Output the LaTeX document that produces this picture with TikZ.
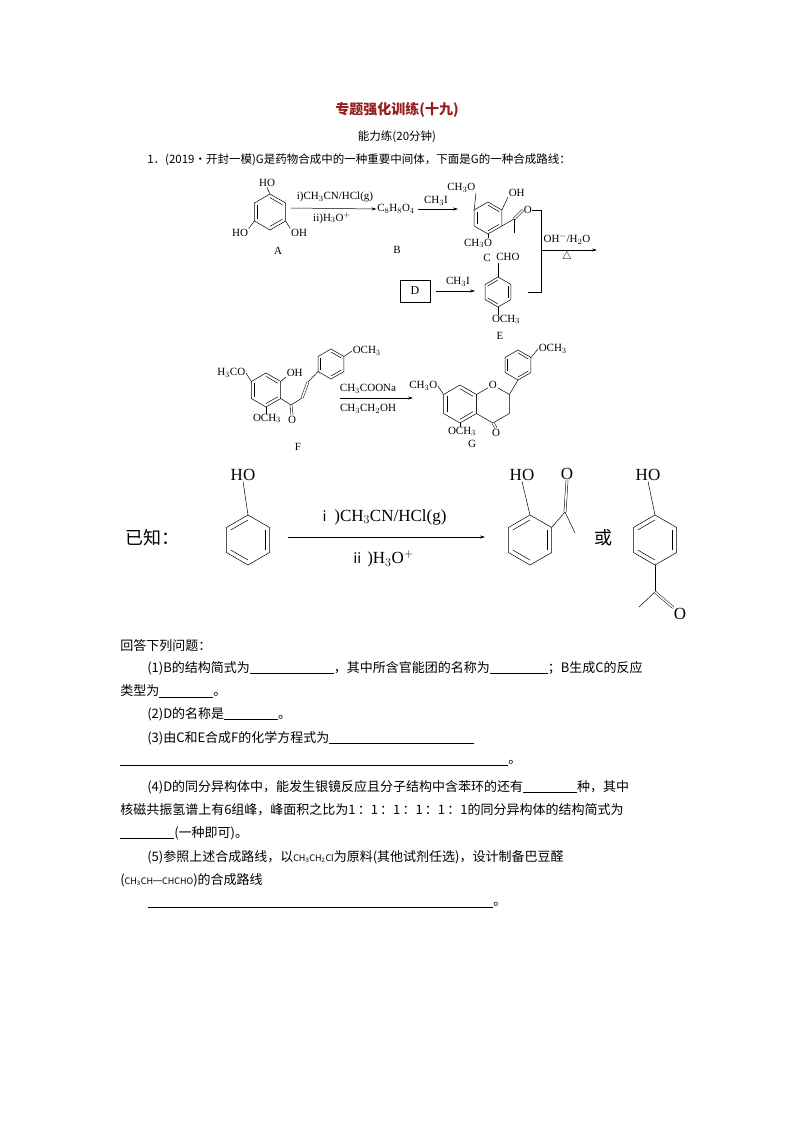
\documentclass[tikz,border=0pt]{standalone}
\usepackage{fontspec}
\setmainfont{Liberation Serif}
\newfontfamily\cjk{Noto Sans CJK SC}
\usetikzlibrary{calc,arrows.meta}
\newcommand\ring[4]{%
 \coordinate (#1c) at (#2,#3);
 \coordinate (#11) at (#2,{#3-#4});
 \coordinate (#12) at ({#2+0.866*#4},{#3-0.5*#4});
 \coordinate (#13) at ({#2+0.866*#4},{#3+0.5*#4});
 \coordinate (#14) at (#2,{#3+#4});
 \coordinate (#15) at ({#2-0.866*#4},{#3+0.5*#4});
 \coordinate (#16) at ({#2-0.866*#4},{#3-0.5*#4});
 \draw (#11)--(#12)--(#13)--(#14)--(#15)--(#16)--cycle;}
\newcommand\db[3]{\draw ($(#1#2)!0.2!(#1c)$) -- ($(#1#3)!0.2!(#1c)$);}
\newcommand\bl[1]{\rule[-1.5pt]{#1pt}{0.5pt}}
\tikzset{
 chem/.style={font=\fontsize{11}{11}\selectfont,inner sep=0.5pt},
 big/.style={font=\fontsize{17}{17}\selectfont,inner sep=0.5pt},
 txt/.style={font=\cjk\fontsize{13}{15}\selectfont,anchor=west,inner sep=0pt},
 rx/.style={-{Stealth[length=5pt,width=3pt]}},
 dbl/.style={double,double distance=1.6pt}
}
\begin{document}
\begin{tikzpicture}[x=1pt,y=-1pt,line width=0.5pt]
\path[use as bounding box] (0,0) rectangle (794,1123);
\fill[white] (0,0) rectangle (794,1123);
% header
\node[font=\cjk\bfseries\fontsize{14}{16}\selectfont,text={rgb,255:red,150;green,30;blue,30}] (title) at (397,110) {专题强化训练(十九)};
\node[font=\cjk\fontsize{11.5}{13}\selectfont] (sub) at (397,137) {能力练(20分钟)};
\node[txt,font=\cjk\fontsize{11.5}{13}\selectfont] (q0) at (147,160) {1．(2019·开封一模)G是药物合成中的一种重要中间体，下面是G的一种合成路线：};
% A
\ring{A}{270}{212}{18}
\db{A}{1}{2}\db{A}{3}{4}\db{A}{5}{6}
\node[chem] (Aoh1) at (267,183) {HO};
\node[chem] (Aoh2) at (240,233) {HO};
\node[chem] (Aoh3) at (299,233) {OH};
\draw (A1) -- (Aoh1.south);
\draw (A5) -- (Aoh2.north east);
\draw (A3) -- (Aoh3.north west);
\node[chem] (Alab) at (278,251) {A};
\node[chem] (B) at (396,209) {C$_8$H$_8$O$_4$};
\node[chem] (Blab) at (397,250) {B};
\draw[rx] (291,208) -- (B.west);
\node[chem] at (335,197) {i)CH$_3$CN/HCl(g)};
\node[chem] at (332,218) {ii)H$_3$O$^+$};
% C
\ring{C}{488}{218}{16}
\db{C}{1}{2}\db{C}{3}{4}\db{C}{5}{6}
\node[chem,anchor=south east] (Cme1) at (476,193) {CH$_3$O};
\draw (C6) -- (Cme1.south east);
\node[chem,anchor=south west] (Coh) at (508,197) {OH};
\draw (C2) -- (Coh.south west);
\coordinate (Cco) at (514,219);
\draw (C3) -- (Cco);
\node[chem,anchor=west] (Co) at (523,210) {O};
\draw[dbl] (Cco) -- (Co.west);
\coordinate (Cm) at (514,233);
\draw (Cco) -- (Cm);
\node[chem,anchor=north] (Cme2) at (478,238) {CH$_3$O};
\draw (C4) -- (488,238);
\node[chem] (Clab) at (487,258) {C};
\draw[rx] (B.east) ++(3,0) -- (458,209);
\node[chem] at (436,201) {CH$_3$I};
% D, E
\node[draw,minimum width=30pt,minimum height=22pt,chem,font=\fontsize{12}{12}\selectfont] (D) at (415,291) {D};
\ring{E}{498}{292}{15}
\db{E}{2}{3}\db{E}{4}{5}\db{E}{6}{1}
\draw[rx] (D.east) ++(6,0) -- (475,291);
\node[chem] at (458,282) {CH$_3$I};
\node[chem] (Echo) at (508,257) {CHO};
\draw (E1) -- (498,263);
\node[chem,anchor=north] (Eome) at (506,314) {OCH$_3$};
\draw (E4) -- (498,315);
\node[chem] (Elab) at (500,336) {E};
% bracket
\coordinate (br1) at (541,210);
\coordinate (br2) at (541,292);
\coordinate (brm) at (541,250);
\draw (Co.east) -- (br1) -- (br2) -- (528,292);
\draw[rx] (brm) -- (597,250);
\node[chem] at (567,239) {OH$^-$/H$_2$O};
\node[chem] at (567,257) {$\triangle$};
% F
\ring{F}{266}{390}{17}
\db{F}{1}{2}\db{F}{3}{4}\db{F}{5}{6}
\node[chem,anchor=east] (Fme1) at (246,373) {H$_3$CO};
\draw (F6) -- (Fme1.east);
\node[chem,anchor=south west] (Foh) at (286,377) {OH};
\draw (F2) -- (Foh.south west);
\node[chem,anchor=north] (Fme2) at (267,413) {OCH$_3$};
\draw (F4) -- (266,414);
\coordinate (Fk) at (291,405);
\draw (F3) -- (Fk);
\node[chem,anchor=north] (Fo) at (292,415) {O};
\draw[dbl] (Fk) -- (Fo.north);
\coordinate (Fa) at (302,398);
\coordinate (Fb) at (308,382);
\draw (Fk) -- (Fa);
\draw[dbl] (Fa) -- (Fb);
\ring{P}{331}{364}{15}
\db{P}{1}{2}\db{P}{3}{4}\db{P}{5}{6}
\draw (Fb) -- (P5);
\node[chem,anchor=west] (Pome) at (352,351) {OCH$_3$};
\draw (P2) -- (Pome.west);
\node[chem] (Flab) at (298,447) {F};
\draw[rx] (340,398) -- (413,398);
\node[chem] at (368,389) {CH$_3$COONa};
\node[chem] at (368,409) {CH$_3$CH$_2$OH};
% G
\ring{G}{460}{404}{19}
\db{G}{1}{2}\db{G}{3}{4}\db{G}{5}{6}
\ring{H}{492.9}{404}{19}
\node[chem,fill=white,inner sep=1pt] (Go) at (H1) {O};
\node[chem,anchor=east] (Gme1) at (438,386) {CH$_3$O};
\draw (G6) -- (Gme1.east);
\node[chem,anchor=north] (Gme2) at (462,426) {OCH$_3$};
\draw (G4) -- (460,427);
\node[chem,anchor=north] (Gko) at (496,428) {O};
\draw[dbl] (H4) -- (Gko.north);
\ring{K}{518}{365}{15}
\db{K}{1}{2}\db{K}{3}{4}\db{K}{5}{6}
\draw (H2) -- (K4);
\node[chem,anchor=west] (Kome) at (538,349) {OCH$_3$};
\draw (K2) -- (Kome.west);
\node[chem] (Glab) at (472,444) {G};
% known
\node[font=\cjk\fontsize{18}{18}\selectfont] (known) at (152,538) {已知：};
\ring{Q}{248}{540}{25}
\db{Q}{2}{3}\db{Q}{4}{5}\db{Q}{6}{1}
\node[big] (Qoh) at (243,475) {HO};
\draw (Q1) -- (Qoh.south);
\draw[rx] (288,537) -- (485,537);
\node[big] at (382,517) {{\cjk\fontsize{14}{14}\selectfont ⅰ}\,)CH$_3$CN/HCl(g)};
\node[big] at (382,559) {{\cjk\fontsize{14}{14}\selectfont ⅱ}\,)H$_3$O$^+$};
\ring{R}{530}{540}{25}
\db{R}{2}{3}\db{R}{4}{5}\db{R}{6}{1}
\node[big] (Roh) at (522,475) {HO};
\draw (R1) -- (Roh.south);
\coordinate (Rc) at (565,512);
\draw (R2) -- (Rc);
\node[big] (Ro) at (567,474) {O};
\draw[dbl] (Rc) -- (Ro.south);
\draw (Rc) -- (575,533);
\node[font=\cjk\fontsize{18}{18}\selectfont] (or) at (603,538) {或};
\ring{S}{655}{540}{25}
\db{S}{2}{3}\db{S}{4}{5}\db{S}{6}{1}
\node[big] (Soh) at (648,475) {HO};
\draw (S1) -- (Soh.south);
\coordinate (Sc) at (655,592);
\draw (S4) -- (Sc);
\draw (Sc) -- (639,607);
\node[big] (So) at (680,614) {O};
\draw[dbl] (Sc) -- (So.north west);
% questions
\node[txt] (t1) at (120,646) {回答下列问题：};
\node[txt] (t2) at (147,668) {(1)B的结构简式为\bl{84}，其中所含官能团的名称为\bl{58}；B生成C的反应};
\node[txt] (t3) at (120,691) {类型为\bl{54}。};
\node[txt] (t4) at (147,714) {(2)D的名称是\bl{54}。};
\node[txt] (t5) at (147,738) {(3)由C和E合成F的化学方程式为\bl{145}};
\node[txt] (t6) at (120,763) {\bl{388}。};
\node[txt] (t7) at (147,787) {(4)D的同分异构体中，能发生银镜反应且分子结构中含苯环的还有\bl{54}种，其中};
\node[txt] (t8) at (120,810) {核磁共振氢谱上有6组峰，峰面积之比为1\,：1\,：1\,：1\,：1\,：1的同分异构体的结构简式为};
\node[txt] (t9) at (120,833) {\bl{54}(一种即可)。};
\node[txt] (t10) at (147,857) {(5)参照上述合成路线，以{\fontsize{9}{9}\selectfont CH\textsubscript{3}CH\textsubscript{2}Cl}为原料(其他试剂任选)，设计制备巴豆醛};
\node[txt] (t11) at (120,880) {({\fontsize{9}{9}\selectfont CH\textsubscript{3}CH═CHCHO})的合成路线};
\node[txt] (t12) at (148,905) {\bl{345}。};
\end{tikzpicture}
\end{document}
